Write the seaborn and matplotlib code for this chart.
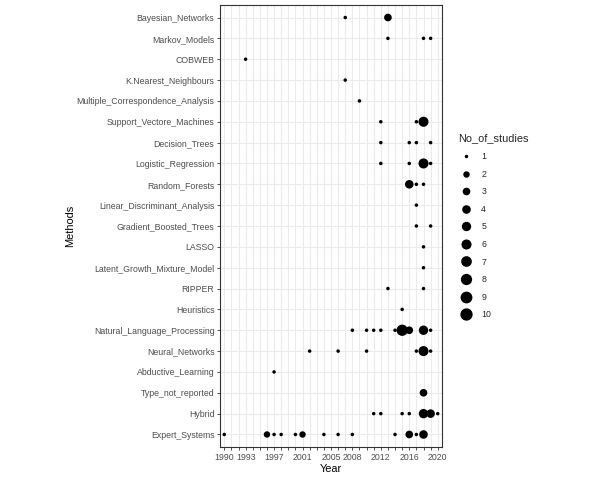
import matplotlib
matplotlib.use("Agg")
import numpy as np
import pandas as pd
import seaborn as sns
import matplotlib.pyplot as plt
from matplotlib.lines import Line2D

methods = [
    "Bayesian_Networks", "Markov_Models", "COBWEB", "K.Nearest_Neighbours",
    "Multiple_Correspondence_Analysis", "Support_Vectore_Machines", "Decision_Trees",
    "Logistic_Regression", "Random_Forests", "Linear_Discriminant_Analysis",
    "Gradient_Boosted_Trees", "LASSO", "Latent_Growth_Mixture_Model", "RIPPER",
    "Heuristics", "Natural_Language_Processing", "Neural_Networks",
    "Abductive_Learning", "Type_not_reported", "Hybrid", "Expert_Systems",
]

# one entry per point: method, year, number of studies
point_method = (
    ["Bayesian_Networks"] * 2
    + ["Markov_Models"] * 3
    + ["COBWEB"]
    + ["K.Nearest_Neighbours"]
    + ["Multiple_Correspondence_Analysis"]
    + ["Support_Vectore_Machines"] * 3
    + ["Decision_Trees"] * 4
    + ["Logistic_Regression"] * 4
    + ["Random_Forests"] * 3
    + ["Linear_Discriminant_Analysis"]
    + ["Gradient_Boosted_Trees"] * 2
    + ["LASSO"]
    + ["Latent_Growth_Mixture_Model"]
    + ["RIPPER"] * 2
    + ["Heuristics"]
    + ["Natural_Language_Processing"] * 9
    + ["Neural_Networks"] * 6
    + ["Abductive_Learning"]
    + ["Type_not_reported"]
    + ["Hybrid"] * 7
    + ["Expert_Systems"] * 13
)
point_year = (
    [2007, 2013]
    + [2013, 2018, 2019]
    + [1993]
    + [2007]
    + [2009]
    + [2012, 2017, 2018]
    + [2012, 2016, 2017, 2019]
    + [2012, 2016, 2018, 2019]
    + [2016, 2017, 2018]
    + [2017]
    + [2017, 2019]
    + [2018]
    + [2018]
    + [2013, 2018]
    + [2015]
    + [2008, 2010, 2011, 2012, 2014, 2015, 2016, 2018, 2019]
    + [2002, 2006, 2010, 2017, 2018, 2019]
    + [1997]
    + [2018]
    + [2011, 2012, 2015, 2016, 2018, 2019, 2020]
    + [1990, 1996, 1997, 1998, 2000, 2001, 2004, 2006, 2008, 2014, 2016, 2017, 2018]
)
point_n = (
    [1, 3]
    + [1, 1, 1]
    + [1]
    + [1]
    + [1]
    + [1, 1, 6]
    + [1, 1, 1, 1]
    + [1, 1, 6, 1]
    + [4, 1, 1]
    + [1]
    + [1, 1]
    + [1]
    + [1]
    + [1, 1]
    + [1]
    + [1, 1, 1, 1, 1, 8, 3, 5, 1]
    + [1, 1, 1, 1, 6, 1]
    + [1]
    + [3]
    + [1, 1, 1, 1, 5, 4, 1]
    + [1, 2, 1, 1, 1, 2, 1, 1, 1, 1, 3, 1, 4]
)

legend_values = [1, 2, 3, 4, 5, 6, 7, 8, 9, 10]
year_ticks = list(range(1990, 2021))
year_labels = ["1990", "1993", "1997", "2001", "2005", "2008", "2012", "2016", "2020"]

DPI = 100


def diam_px(v):
    return 3.5 + 8.8 * np.sqrt((v - 1) / 9.0)


def area_pt2(v):
    return (diam_px(v) * 72.0 / DPI) ** 2


df = pd.DataFrame({"Methods": point_method, "Year": point_year, "No_of_studies": point_n})
df["Methods"] = pd.Categorical(df["Methods"], categories=methods, ordered=True)
df = df.sort_values("Methods", kind="stable")
df["Methods"] = df["Methods"].astype(str)

sns.set_theme(style="white")
plt.rcParams["font.family"] = ["Liberation Sans", "DejaVu Sans"]

fig = plt.figure(figsize=(6, 4.8), dpi=DPI)
ax = fig.add_axes([220 / 600, 1 - 447 / 480, (442 - 220) / 600, (447 - 5) / 480])

size_map = {v: area_pt2(v) for v in legend_values}
sns.scatterplot(
    data=df, x="Year", y="Methods", size="No_of_studies", sizes=size_map,
    color="black", edgecolor="none", linewidth=0, legend=False, ax=ax, zorder=3,
)

ax.set_xlim(1989.4, 2020.6)
ax.set_ylim(len(methods) - 1 + 0.6, -0.6)
ax.set_xticks(year_ticks)
ax.set_xticklabels([str(y) if str(y) in year_labels else "" for y in year_ticks])
ax.set_yticks(range(len(methods)))
ax.set_yticklabels(methods)

ax.grid(True, color="#EBEBEB", linewidth=0.8, zorder=0)
ax.set_axisbelow(True)
for sp in ax.spines.values():
    sp.set_visible(True)
    sp.set_color("#333333")
    sp.set_linewidth(0.8)

ax.tick_params(axis="both", which="major", length=2.5, width=0.6, color="#333333",
               labelsize=6.3, labelcolor="#4D4D4D", pad=1.5, bottom=True, left=True)
ax.set_xlabel("Year", fontsize=7.9, color="black", labelpad=2)
ax.set_ylabel("Methods", fontsize=7.9, color="black", labelpad=1)

handles = [Line2D([], [], marker="o", linestyle="", color="black",
                  markersize=diam_px(v) * 72.0 / DPI, markeredgewidth=0)
           for v in legend_values]
leg = fig.legend(handles, [str(v) for v in legend_values], title="No_of_studies",
                 loc="upper left", bbox_to_anchor=(455 / 600, 1 - 130 / 480),
                 frameon=False, fontsize=6.3, title_fontsize=7.9,
                 labelspacing=0.98, handlelength=1.8, handletextpad=0.8, borderaxespad=0)
leg._legend_box.align = "left"

fig.savefig("out.png", dpi=DPI)
